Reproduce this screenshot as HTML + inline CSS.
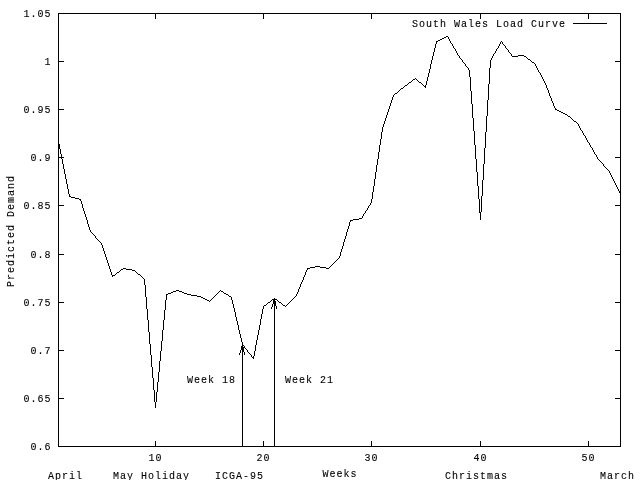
<!DOCTYPE html>
<html lang="en">
<head>
<meta charset="utf-8">
<title>South Wales Load Curve</title>
<style>
html,body{margin:0;padding:0;background:#fff;}
body{width:640px;height:480px;overflow:hidden;}
svg{display:block;}
text{font-family:"Liberation Mono","DejaVu Sans Mono",monospace;font-size:10.0px;letter-spacing:1.000px;fill:#000;stroke:#000;stroke-width:0.1px;}
.px{fill:#000;stroke:none;shape-rendering:crispEdges;}
</style>
</head>
<body>
<svg width="640" height="480" viewBox="0 0 640 480">
<rect x="0" y="0" width="640" height="480" fill="#fff"/>
<text x="51.5" y="450" text-anchor="end">0.6</text>
<text x="51.5" y="402" text-anchor="end">0.65</text>
<text x="51.5" y="354" text-anchor="end">0.7</text>
<text x="51.5" y="306" text-anchor="end">0.75</text>
<text x="51.5" y="258" text-anchor="end">0.8</text>
<text x="51.5" y="209" text-anchor="end">0.85</text>
<text x="51.5" y="161" text-anchor="end">0.9</text>
<text x="51.5" y="113" text-anchor="end">0.95</text>
<text x="51.5" y="65" text-anchor="end">1</text>
<text x="51.5" y="17" text-anchor="end">1.05</text>
<text x="155.5" y="461" text-anchor="middle">10</text>
<text x="263.5" y="461" text-anchor="middle">20</text>
<text x="371.5" y="461" text-anchor="middle">30</text>
<text x="480.5" y="461" text-anchor="middle">40</text>
<text x="588.5" y="461" text-anchor="middle">50</text>
<path class="px" d="M58 13h1v434h-1zM155 13h1v6h-1zM155 441h1v6h-1zM263 13h1v6h-1zM263 441h1v6h-1zM371 13h1v6h-1zM371 441h1v6h-1zM480 13h1v6h-1zM480 441h1v6h-1zM588 13h1v6h-1zM588 441h1v6h-1zM620 13h1v434h-1zM59 13h96v1h-96zM156 13h107v1h-107zM264 13h107v1h-107zM372 13h108v1h-108zM481 13h107v1h-107zM589 13h31v1h-31zM59 61h5v1h-5zM615 61h5v1h-5zM59 109h5v1h-5zM615 109h5v1h-5zM59 157h5v1h-5zM615 157h5v1h-5zM59 205h5v1h-5zM615 205h5v1h-5zM59 254h5v1h-5zM615 254h5v1h-5zM59 302h5v1h-5zM615 302h5v1h-5zM59 350h5v1h-5zM615 350h5v1h-5zM59 398h5v1h-5zM615 398h5v1h-5zM59 446h96v1h-96zM156 446h107v1h-107zM264 446h107v1h-107zM372 446h108v1h-108zM481 446h107v1h-107zM589 446h31v1h-31z"/>
<path class="px" d="M58 141h1v3h-1zM59 144h1v5h-1zM60 149h1v5h-1zM61 154h1v5h-1zM62 159h1v5h-1zM63 164h1v5h-1zM64 169h1v5h-1zM65 174h1v5h-1zM66 179h1v5h-1zM67 184h1v5h-1zM68 189h1v5h-1zM69 194h1v3h-1zM80 199h1v2h-1zM81 201h1v3h-1zM82 204h1v4h-1zM83 208h1v3h-1zM84 211h1v3h-1zM85 214h1v3h-1zM86 217h1v3h-1zM87 220h1v4h-1zM88 224h1v3h-1zM89 227h1v3h-1zM90 230h1v2h-1zM95 236h1v2h-1zM101 243h1v2h-1zM102 245h1v3h-1zM103 248h1v3h-1zM104 251h1v3h-1zM105 254h1v3h-1zM106 257h1v3h-1zM107 260h1v3h-1zM108 263h1v3h-1zM109 266h1v3h-1zM110 269h1v3h-1zM111 272h1v3h-1zM112 275h1v2h-1zM144 279h1v6h-1zM145 285h1v12h-1zM146 297h1v12h-1zM147 309h1v11h-1zM148 320h1v12h-1zM149 332h1v12h-1zM150 344h1v11h-1zM151 355h1v12h-1zM152 367h1v11h-1zM153 378h1v12h-1zM154 390h1v12h-1zM155 402h1v6h-1zM156 392h1v10h-1zM157 382h1v10h-1zM158 372h1v10h-1zM159 361h1v11h-1zM160 351h1v10h-1zM161 341h1v10h-1zM162 330h1v11h-1zM163 320h1v10h-1zM164 310h1v10h-1zM165 300h1v10h-1zM166 294h1v6h-1zM231 297h1v3h-1zM232 300h1v4h-1zM233 304h1v4h-1zM234 308h1v4h-1zM235 312h1v5h-1zM236 317h1v4h-1zM237 321h1v4h-1zM238 325h1v5h-1zM239 330h1v4h-1zM240 334h1v4h-1zM241 338h1v4h-1zM242 342h1v3h-1zM244 346h1v2h-1zM247 350h1v2h-1zM251 355h1v2h-1zM253 356h1v3h-1zM254 351h1v5h-1zM255 345h1v6h-1zM256 340h1v5h-1zM257 335h1v5h-1zM258 330h1v5h-1zM259 325h1v5h-1zM260 319h1v6h-1zM261 314h1v5h-1zM262 309h1v5h-1zM263 306h1v3h-1zM296 294h1v2h-1zM297 292h1v2h-1zM298 289h1v3h-1zM299 287h1v2h-1zM300 284h1v3h-1zM301 282h1v2h-1zM302 280h1v2h-1zM303 277h1v3h-1zM304 275h1v2h-1zM305 272h1v3h-1zM306 270h1v2h-1zM307 268h1v2h-1zM339 256h1v2h-1zM340 252h1v4h-1zM341 249h1v3h-1zM342 246h1v3h-1zM343 242h1v4h-1zM344 239h1v3h-1zM345 236h1v3h-1zM346 232h1v4h-1zM347 229h1v3h-1zM348 226h1v3h-1zM349 222h1v4h-1zM350 220h1v2h-1zM362 216h1v2h-1zM363 214h1v2h-1zM365 211h1v2h-1zM367 208h1v2h-1zM368 206h1v2h-1zM370 203h1v2h-1zM371 199h1v4h-1zM372 192h1v7h-1zM373 186h1v6h-1zM374 179h1v7h-1zM375 172h1v7h-1zM376 165h1v7h-1zM377 159h1v6h-1zM378 152h1v7h-1zM379 145h1v7h-1zM380 139h1v6h-1zM381 132h1v7h-1zM382 127h1v5h-1zM383 124h1v3h-1zM384 121h1v3h-1zM385 118h1v3h-1zM386 115h1v3h-1zM387 112h1v3h-1zM388 109h1v3h-1zM389 106h1v3h-1zM390 103h1v3h-1zM391 100h1v3h-1zM392 97h1v3h-1zM393 95h1v2h-1zM425 85h1v3h-1zM426 81h1v4h-1zM427 77h1v4h-1zM428 73h1v4h-1zM429 69h1v4h-1zM430 64h1v5h-1zM431 60h1v4h-1zM432 56h1v4h-1zM433 52h1v4h-1zM434 48h1v4h-1zM435 44h1v4h-1zM436 41h1v3h-1zM448 37h1v2h-1zM449 39h1v2h-1zM450 41h1v2h-1zM452 44h1v2h-1zM453 46h1v2h-1zM455 49h1v2h-1zM456 51h1v2h-1zM457 53h1v2h-1zM459 56h1v2h-1zM462 60h1v2h-1zM465 64h1v2h-1zM468 68h1v2h-1zM469 70h1v7h-1zM470 77h1v14h-1zM471 91h1v13h-1zM472 104h1v14h-1zM473 118h1v13h-1zM474 131h1v14h-1zM475 145h1v14h-1zM476 159h1v13h-1zM477 172h1v14h-1zM478 186h1v13h-1zM479 199h1v14h-1zM480 212h1v8h-1zM481 196h1v16h-1zM482 180h1v16h-1zM483 164h1v16h-1zM484 148h1v16h-1zM485 132h1v16h-1zM486 116h1v16h-1zM487 100h1v16h-1zM488 84h1v16h-1zM489 68h1v16h-1zM490 60h1v8h-1zM491 58h1v2h-1zM492 56h1v2h-1zM493 54h1v2h-1zM495 51h1v2h-1zM496 49h1v2h-1zM498 46h1v2h-1zM499 44h1v2h-1zM500 42h1v2h-1zM502 42h1v2h-1zM505 46h1v2h-1zM508 50h1v2h-1zM511 54h1v2h-1zM535 64h1v2h-1zM536 66h1v2h-1zM537 68h1v2h-1zM538 70h1v2h-1zM540 73h1v2h-1zM541 75h1v2h-1zM542 77h1v2h-1zM543 79h1v2h-1zM544 81h1v2h-1zM545 83h1v2h-1zM546 85h1v3h-1zM547 88h1v2h-1zM548 90h1v3h-1zM549 93h1v3h-1zM550 96h1v2h-1zM551 98h1v3h-1zM552 101h1v2h-1zM553 103h1v3h-1zM554 106h1v2h-1zM555 108h1v2h-1zM578 124h1v2h-1zM579 126h1v2h-1zM580 128h1v2h-1zM582 131h1v2h-1zM583 133h1v2h-1zM585 136h1v2h-1zM586 138h1v2h-1zM587 140h1v2h-1zM589 143h1v2h-1zM590 145h1v2h-1zM592 148h1v2h-1zM593 150h1v2h-1zM594 152h1v2h-1zM596 155h1v2h-1zM597 157h1v2h-1zM603 164h1v2h-1zM609 171h1v2h-1zM610 173h1v2h-1zM611 175h1v2h-1zM612 177h1v2h-1zM613 179h1v2h-1zM614 181h1v2h-1zM615 183h1v2h-1zM616 185h1v2h-1zM617 187h1v2h-1zM618 189h1v2h-1zM619 191h1v2h-1zM446 36h2v1h-2zM444 37h2v1h-2zM442 38h2v1h-2zM440 39h2v1h-2zM438 40h2v1h-2zM437 41h1v1h-1zM501 41h1v1h-1zM451 43h1v1h-1zM503 44h1v1h-1zM504 45h1v1h-1zM454 48h1v1h-1zM497 48h1v1h-1zM506 48h1v1h-1zM507 49h1v1h-1zM509 52h1v1h-1zM494 53h1v1h-1zM510 53h1v1h-1zM458 55h1v1h-1zM518 55h6v1h-6zM512 56h6v1h-6zM524 56h2v1h-2zM526 57h1v1h-1zM460 58h1v1h-1zM527 58h1v1h-1zM461 59h1v1h-1zM528 59h2v1h-2zM530 60h1v1h-1zM531 61h1v1h-1zM463 62h1v1h-1zM532 62h2v1h-2zM464 63h1v1h-1zM534 63h1v1h-1zM466 66h1v1h-1zM467 67h1v1h-1zM539 72h1v1h-1zM415 78h1v1h-1zM413 79h2v1h-2zM416 79h1v1h-1zM412 80h1v1h-1zM417 80h1v1h-1zM411 81h1v1h-1zM418 81h1v1h-1zM409 82h2v1h-2zM419 82h2v1h-2zM408 83h1v1h-1zM421 83h1v1h-1zM407 84h1v1h-1zM422 84h1v1h-1zM405 85h2v1h-2zM423 85h1v1h-1zM404 86h1v1h-1zM424 86h1v1h-1zM403 87h1v1h-1zM401 88h2v1h-2zM400 89h1v1h-1zM399 90h1v1h-1zM398 91h1v1h-1zM397 92h1v1h-1zM395 93h2v1h-2zM394 94h1v1h-1zM556 109h1v1h-1zM557 110h2v1h-2zM559 111h2v1h-2zM561 112h2v1h-2zM563 113h2v1h-2zM565 114h2v1h-2zM567 115h1v1h-1zM568 116h2v1h-2zM570 117h1v1h-1zM571 118h1v1h-1zM572 119h1v1h-1zM573 120h1v1h-1zM574 121h2v1h-2zM576 122h1v1h-1zM577 123h1v1h-1zM581 130h1v1h-1zM584 135h1v1h-1zM588 142h1v1h-1zM591 147h1v1h-1zM595 154h1v1h-1zM598 159h1v1h-1zM599 160h1v1h-1zM600 161h1v1h-1zM601 162h1v1h-1zM602 163h1v1h-1zM604 166h1v1h-1zM605 167h1v1h-1zM606 168h1v1h-1zM607 169h1v1h-1zM608 170h1v1h-1zM620 193h1v1h-1zM70 196h1v1h-1zM71 197h4v1h-4zM75 198h4v1h-4zM79 199h1v1h-1zM369 205h1v1h-1zM366 210h1v1h-1zM364 213h1v1h-1zM359 218h3v1h-3zM353 219h6v1h-6zM351 220h2v1h-2zM91 232h1v1h-1zM92 233h1v1h-1zM93 234h1v1h-1zM94 235h1v1h-1zM96 238h1v1h-1zM97 239h1v1h-1zM98 240h1v1h-1zM99 241h1v1h-1zM100 242h1v1h-1zM338 258h1v1h-1zM337 259h1v1h-1zM336 260h1v1h-1zM335 261h1v1h-1zM334 262h1v1h-1zM333 263h1v1h-1zM332 264h1v1h-1zM331 265h1v1h-1zM315 266h5v1h-5zM330 266h1v1h-1zM310 267h5v1h-5zM320 267h6v1h-6zM329 267h1v1h-1zM123 268h3v1h-3zM308 268h2v1h-2zM326 268h3v1h-3zM121 269h2v1h-2zM126 269h6v1h-6zM120 270h1v1h-1zM132 270h3v1h-3zM119 271h1v1h-1zM135 271h1v1h-1zM117 272h2v1h-2zM136 272h1v1h-1zM116 273h1v1h-1zM137 273h1v1h-1zM115 274h1v1h-1zM138 274h2v1h-2zM113 275h2v1h-2zM140 275h1v1h-1zM141 276h1v1h-1zM142 277h1v1h-1zM143 278h1v1h-1zM176 290h3v1h-3zM220 290h1v1h-1zM173 291h3v1h-3zM179 291h3v1h-3zM219 291h1v1h-1zM221 291h2v1h-2zM171 292h2v1h-2zM182 292h2v1h-2zM218 292h1v1h-1zM223 292h1v1h-1zM168 293h3v1h-3zM184 293h3v1h-3zM217 293h1v1h-1zM224 293h2v1h-2zM167 294h1v1h-1zM187 294h4v1h-4zM216 294h1v1h-1zM226 294h2v1h-2zM191 295h6v1h-6zM215 295h1v1h-1zM228 295h1v1h-1zM197 296h4v1h-4zM214 296h1v1h-1zM229 296h2v1h-2zM295 296h1v1h-1zM201 297h2v1h-2zM213 297h1v1h-1zM294 297h1v1h-1zM203 298h2v1h-2zM212 298h1v1h-1zM274 298h1v1h-1zM293 298h1v1h-1zM205 299h2v1h-2zM211 299h1v1h-1zM272 299h2v1h-2zM275 299h2v1h-2zM292 299h1v1h-1zM207 300h2v1h-2zM210 300h1v1h-1zM271 300h1v1h-1zM277 300h1v1h-1zM291 300h1v1h-1zM209 301h1v1h-1zM270 301h1v1h-1zM278 301h1v1h-1zM290 301h1v1h-1zM268 302h2v1h-2zM279 302h2v1h-2zM289 302h1v1h-1zM267 303h1v1h-1zM281 303h1v1h-1zM288 303h1v1h-1zM266 304h1v1h-1zM282 304h1v1h-1zM287 304h1v1h-1zM264 305h2v1h-2zM283 305h2v1h-2zM286 305h1v1h-1zM285 306h1v1h-1zM243 345h1v1h-1zM245 348h1v1h-1zM246 349h1v1h-1zM248 352h1v1h-1zM249 353h1v1h-1zM250 354h1v1h-1zM252 357h1v1h-1z"/>
<text x="566" y="27" text-anchor="end">South Wales Load Curve</text>
<path class="px" d="M573 23h34v1h-34z"/>
<path class="px" d="M239 353h1v2h-1zM240 350h1v3h-1zM241 346h1v4h-1zM242 344h1v103h-1zM243 347h1v5h-1zM244 352h1v3h-1zM271 307h1v2h-1zM272 304h1v3h-1zM273 300h1v4h-1zM274 298h1v149h-1zM275 301h1v5h-1zM276 306h1v3h-1z"/>
<text x="187" y="383" text-anchor="start">Week 18</text>
<text x="285" y="383" text-anchor="start">Week 21</text>
<text x="48" y="479" text-anchor="start">April</text>
<text x="113" y="479" text-anchor="start">May Holiday</text>
<text x="215" y="479" text-anchor="start">ICGA-95</text>
<text x="340" y="477" text-anchor="middle">Weeks</text>
<text x="445" y="479" text-anchor="start">Christmas</text>
<text x="600" y="479" text-anchor="start">March</text>
<text transform="translate(14,231) rotate(-90)" text-anchor="middle">Predicted Demand</text>
</svg>
</body>
</html>
